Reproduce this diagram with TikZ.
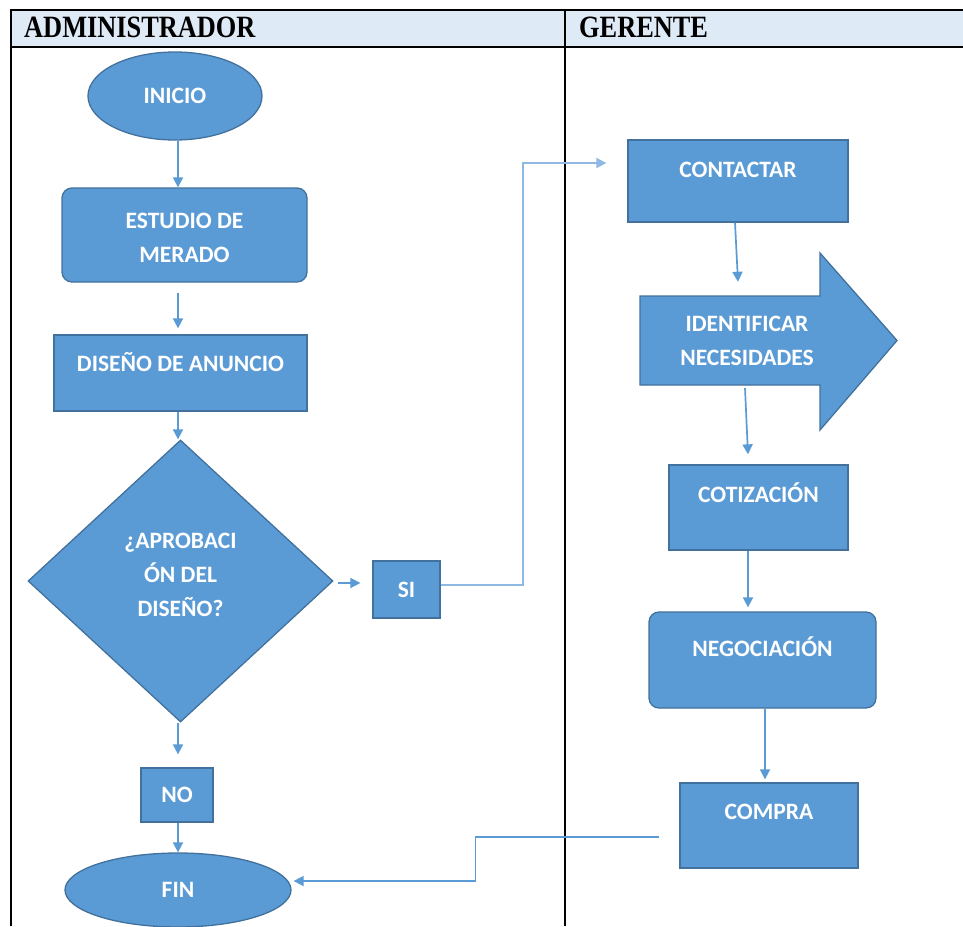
\documentclass[tikz,border=0pt]{standalone}
\usepackage{fontspec}
\newfontfamily\bodyf{Carlito}
\newfontfamily\hdrf[FakeStretch=0.85]{Liberation Serif}
\usetikzlibrary{arrows.meta,shapes.geometric}
\definecolor{blu}{HTML}{5B9BD5}
\definecolor{bdr}{HTML}{41719C}
\definecolor{hdrbg}{HTML}{DEEBF7}
\definecolor{lnk}{HTML}{5B9BD5}
\definecolor{lnklight}{HTML}{8DB9E3}
\begin{document}
\begin{tikzpicture}[x=1pt,y=-1pt,
  shp/.style={draw=bdr,fill=blu,line width=1.3pt,inner sep=0pt,text=white,
    font=\bodyf\bfseries\fontsize{23.5}{34}\selectfont,align=center},
  sqbox/.style={shp,rectangle},
  rbox/.style={shp,rectangle,rounded corners=10pt},
  ellip/.style={shp,ellipse},
  dia/.style={shp,diamond},
  txt/.style={text=white,font=\bodyf\bfseries\fontsize{23.5}{34}\selectfont,align=center,inner sep=0pt},
  hdrtxt/.style={font=\hdrf\bfseries\fontsize{31}{31}\selectfont,inner sep=0pt},
  conn/.style={draw=lnk,line width=1.7pt,-{Triangle[length=10pt,width=10pt]}},
  lane/.style={draw=black,line width=1.8pt}
]
\useasboundingbox (0,0) rectangle (963,926);
\fill[white] (0,0) rectangle (963,926);

% header
\fill[hdrbg] (11,10) rectangle (963,47);
\draw[lane] (11,10) -- (963,10);
\draw[lane] (11,47) -- (963,47);
\draw[lane] (11,9) -- (11,926);
\draw[lane] (565,9) -- (565,926);
\node[hdrtxt,anchor=base west] (hadm) at (24,37) {ADMINISTRADOR};
\node[hdrtxt,anchor=base west] (hger) at (579,37) {GERENTE};

% left lane
\node[ellip,minimum width=174,minimum height=88] (ini) at (175,96) {INICIO};
\node[rbox,minimum width=245,minimum height=94,
  label={[txt,yshift=-3]center:ESTUDIO DE\\MERADO}] (est) at (184.5,235) {};
\node[sqbox,minimum width=253,minimum height=76,
  label={[txt,yshift=11]center:DISEÑO DE ANUNCIO}] (dis) at (180.5,373) {};
\node[dia,minimum width=305,minimum height=282,
  label={[txt,yshift=6]center:¿APROBACI\\ÓN DEL\\DISEÑO?}] (apr) at (180.5,581) {};
\node[sqbox,minimum width=67,minimum height=57] (si) at (406.5,589.5) {SI};
\node[sqbox,minimum width=72,minimum height=54] (no) at (177,795) {NO};
\node[ellip,minimum width=226,minimum height=74] (fin) at (178,890) {FIN};

% right lane
\node[sqbox,minimum width=220,minimum height=82,
  label={[txt,yshift=11]center:CONTACTAR}] (con) at (738,181) {};
\coordinate (idc) at (730,340.5);
\path[draw=bdr,fill=blu,line width=1.3pt]
  (640,296) -- (820,296) -- (820,253) -- (897,340.5) -- (820,430) -- (820,385) -- (640,385) -- cycle;
\node[txt,minimum width=180,minimum height=89,
  label={[txt,xshift=17]center:IDENTIFICAR\\NECESIDADES}] (ide) at (idc) {};
\node[sqbox,minimum width=179,minimum height=85,
  label={[txt,yshift=15]center:COTIZACIÓN}] (cot) at (758.5,507.5) {};
\node[rbox,minimum width=227,minimum height=96,
  label={[txt,yshift=13]center:NEGOCIACIÓN}] (neg) at (762.5,660) {};
\node[sqbox,minimum width=178,minimum height=85,
  label={[txt,yshift=14]center:COMPRA}] (com) at (769,825.5) {};

% connectors left
\draw[conn] ([xshift=3]ini.south) -- ([xshift=-6.5]est.north);
\draw[conn] ([xshift=-6.5,yshift=-10]est.south) -- ([xshift=-2.5,yshift=6]dis.north);
\draw[conn] ([xshift=-2.5]dis.south) -- ([xshift=-2.5]apr.north);
\draw[conn] ([xshift=4,yshift=-2]apr.east) -- ([xshift=-12,yshift=6.5]si.west);
\draw[conn] ([xshift=-2.5]apr.south) -- ([xshift=1,yshift=13]no.north);
\draw[conn] ([xshift=1]no.south) -- (fin.north);
\draw[conn,draw=lnklight] ([yshift=4.5]si.east) -- ++(82,0) |- ([xshift=-21,yshift=18]con.west);
\draw[conn] ([xshift=-20,yshift=-11.5]com.west) -- ++(-184,0) |- ([xshift=2,yshift=9]fin.east);

% connectors right
\draw[conn] ([xshift=-3]con.south) -- ([xshift=8,yshift=14]ide.north);
\draw[conn] ([xshift=15,yshift=-3]ide.south) -- ([xshift=-10.5,yshift=10]cot.north);
\draw[conn] ([xshift=-10.5]cot.south) -- ([xshift=-14.5,yshift=4]neg.north);
\draw[conn] ([xshift=2.5]neg.south) -- ([xshift=-4,yshift=3]com.north);
\end{tikzpicture}
\end{document}
